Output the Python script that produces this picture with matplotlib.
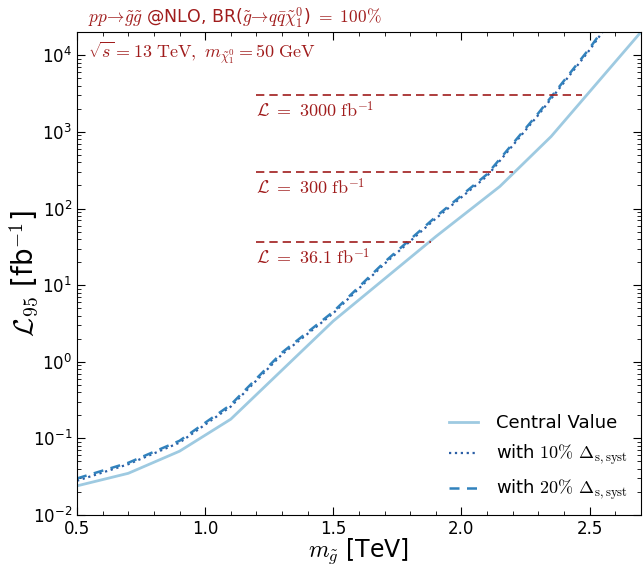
import matplotlib

matplotlib.use("Agg")
from matplotlib import pyplot as plt
from matplotlib.ticker import MultipleLocator

plt.rcParams["mathtext.fontset"] = "cm"

RED = "#a01c1c"

# gluino mass [TeV] and required luminosity [fb^-1]
m_central = [0.5, 0.7, 0.9, 1.1, 1.5, 1.9, 2.15, 2.35, 2.7]
lumi_central = [0.024, 0.035, 0.068, 0.178, 3.4, 43, 194, 870, 20000]

m_syst = [0.5, 0.7, 0.9, 1.1, 1.3, 1.5, 1.7, 1.9, 2.1, 2.3, 2.5, 2.7]
lumi_syst10 = [0.028, 0.046, 0.088, 0.26, 1.25, 4.3, 19, 74, 265, 1660, 11700, 100000]
lumi_syst20 = [0.030, 0.048, 0.093, 0.275, 1.32, 4.5, 20, 78, 280, 1750, 12300, 105000]

# reference luminosities and where their guide lines end
ref_lumi = [3000, 300, 36.1]
ref_label = ["3000", "300", "36.1"]
ref_end = [2.47, 2.2, 1.88]
ref_start = 1.2

fig = plt.figure(figsize=(6.44, 5.65), dpi=100, facecolor="white")
ax = fig.add_axes([0.1196, 0.0885, 0.8754, 0.8545])

ax.plot(m_central, lumi_central, color="#9ecae1", lw=2, label="Central Value")
ax.plot(m_syst, lumi_syst10, color="#2b5fa6", lw=1.6, ls=":",
        label=r"with $10\%$ $\Delta_{\rm s,syst}$")
ax.plot(m_syst, lumi_syst20, color="#3182bd", lw=1.8, ls=(0, (4, 3)),
        label=r"with $20\%$ $\Delta_{\rm s,syst}$")

for L, lab, end in zip(ref_lumi, ref_label, ref_end):
    ax.plot([ref_start, end], [L, L], color=RED, lw=1.2, ls=(0, (5, 3)))
    ax.annotate(r"$\mathcal{L}\ =\ " + lab + r"\ \mathrm{fb}^{-1}$",
                xy=(ref_start, L), xytext=(0, -4), textcoords="offset points",
                ha="left", va="top", color=RED, fontsize=13)

ax.set_yscale("log")
ax.set_xlim(0.5, 2.7)
ax.set_ylim(1e-2, 2e4)
ax.xaxis.set_major_locator(MultipleLocator(0.5))
ax.xaxis.set_minor_locator(MultipleLocator(0.1))
ax.tick_params(which="both", direction="in", top=True, right=True, labelsize=12)
ax.tick_params(which="major", length=6)
ax.tick_params(which="minor", length=3)

ax.set_xlabel(r"$m_{\tilde{g}}$ [TeV]", fontsize=17, labelpad=-1)
ax.set_ylabel(r"$\mathcal{L}_{95}$ [fb$^{-1}$]", fontsize=20)
ax.yaxis.set_label_coords(-0.065, 0.5)

ax.text(0.02, 1.004, r"$pp\!\to\!\tilde{g}\tilde{g}$ @NLO, BR($\tilde{g}\!\to\!q\bar{q}\tilde{\chi}_1^0$) $=\ 100\%$",
        transform=ax.transAxes, color=RED, fontsize=12.5, ha="left", va="bottom")
ax.text(0.02, 0.985, r"$\sqrt{s}=13\ \mathrm{TeV},\ m_{\tilde{\chi}_1^0}=50\ \mathrm{GeV}$",
        transform=ax.transAxes, color=RED, fontsize=13, ha="left", va="top")

ax.legend(loc="lower right", frameon=False, fontsize=13, handlelength=1.6,
          handletextpad=1.0, borderaxespad=0.3, labelspacing=0.6)

fig.savefig("out.png", dpi=100, facecolor="white")
